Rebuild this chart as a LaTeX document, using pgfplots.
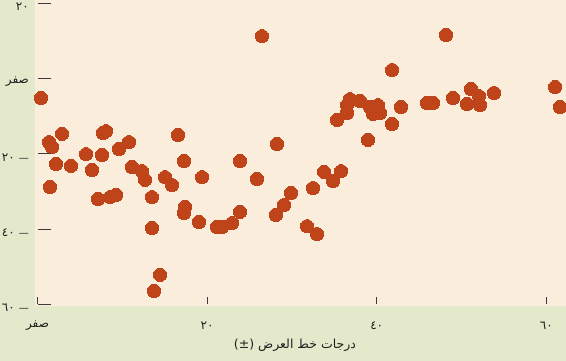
\documentclass[border=0pt]{standalone}
\usepackage{pgfplots}
\pgfplotsset{compat=1.18}
\usepackage{fontspec}
\setmainfont{DejaVu Sans}
\newfontfamily\arabicfont[Script=Arabic]{DejaVu Sans}
\newfontfamily\dashfont{DejaVu Sans}
\TeXXeTstate=1
\definecolor{bggreen}{RGB}{229,233,204}
\definecolor{plotbg}{RGB}{250,237,219}
\definecolor{dotcol}{RGB}{192,68,26}
\definecolor{tickcol}{RGB}{60,60,60}
\definecolor{txtcol}{RGB}{35,31,32}
\newcommand{\negdash}{{\dashfont\fontsize{10}{10}\selectfont —}}
\begin{document}
\begin{tikzpicture}[x=1pt,y=1pt]
\fill[bggreen] (0,0) rectangle (566,361);
\useasboundingbox (0,0) rectangle (566,361);
% data axis
\begin{axis}[
  at={(35pt,54.5pt)}, anchor=south west, scale only axis,
  width=531pt, height=306.5pt,
  xmin=-0.295, xmax=62.32, ymin=-60.5, ymax=20.8,
  axis background/.style={fill=plotbg},
  axis line style={draw=none},
  xtick=\empty, ytick=\empty,
  clip=false,
]
\addplot[dotcol, only marks, mark=*, mark size=6.6pt, mark options={draw=dotcol, fill=dotcol, line width=0pt}] table {
x y
0.41 -5.2
1.36 -16.9
1.71 -18.2
2.89 -14.7
2.18 -22.7
3.95 -23.2
1.47 -28.8
5.72 -20.1
6.43 -24.3
7.72 -14.5
8.08 -14.0
7.61 -20.3
9.61 -18.7
10.79 -16.9
11.14 -23.5
12.32 -24.6
12.68 -26.9
7.13 -32.0
8.55 -31.5
9.26 -30.9
13.50 -31.5
13.50 -39.7
14.45 -52.1
13.74 -56.4
15.04 -26.2
15.86 -28.3
16.57 -15.0
17.28 -21.9
19.40 -26.2
17.39 -34.1
17.28 -35.7
19.04 -38.1
21.17 -39.4
21.76 -39.4
22.94 -38.4
23.88 -35.4
23.88 -21.9
25.88 -26.7
28.24 -17.4
28.12 -36.2
29.07 -33.6
29.89 -30.4
31.78 -39.2
32.96 -41.3
32.49 -29.1
33.79 -24.8
34.85 -27.2
35.79 -24.6
35.32 -11.0
26.47 11.2
36.50 -9.2
36.50 -7.1
36.85 -5.5
38.03 -6.0
39.21 -7.6
40.15 -7.1
40.39 -9.2
39.56 -9.4
42.87 -7.6
41.81 -12.1
38.97 -16.3
41.81 2.2
45.93 -6.5
46.64 -6.5
48.17 11.5
49.00 -5.2
50.65 -6.8
51.12 -2.8
52.06 -4.7
52.18 -7.1
53.83 -3.9
61.03 -2.3
61.62 -7.6
};
\end{axis}
% x ticks axis
\begin{axis}[
  at={(35pt,57pt)}, anchor=south west, scale only axis,
  width=531pt, height=100pt,
  xmin=-0.295, xmax=62.32, ymin=0, ymax=1,
  hide y axis,
  axis x line*=bottom,
  x axis line style={draw=none},
  tick align=inside, major tick length=7pt,
  xtick={0,20,40,60},
  xticklabels={{\arabicfont\beginR صفر\endR},{\arabicfont ٢٠},{\arabicfont ٤٠},{\arabicfont ٦٠}},
  xtick style={draw=tickcol, line width=1pt},
  xticklabel style={anchor=center, inner sep=0pt, yshift=-22pt, font=\fontsize{12}{14}\selectfont, text=txtcol},
  xlabel={\arabicfont\beginR درجات خط العرض \beginL(±)\endL\endR},
  xlabel style={at={(axis description cs:0.4896,0)}, anchor=center, yshift=-41pt, font=\fontsize{12.5}{15}\selectfont, text=txtcol},
]
\addplot[draw=none] coordinates {(0,0)};
\end{axis}
% y ticks axis
\begin{axis}[
  at={(38pt,54.5pt)}, anchor=south west, scale only axis,
  width=100pt, height=306.5pt,
  xmin=0, xmax=1, ymin=-60.5, ymax=20.8,
  hide x axis,
  axis y line*=left,
  y axis line style={draw=none},
  tick align=inside, major tick length=13pt,
  ytick={-60,-40,-20,0,20},
  yticklabels={{\arabicfont\beginR\negdash\hspace{4pt}٦٠\endR},{\arabicfont\beginR\negdash\hspace{4pt}٤٠\endR},{\arabicfont\beginR\negdash\hspace{4pt}٢٠\endR},{\arabicfont\beginR صفر\endR},{\arabicfont ٢٠}},
  ytick style={draw=tickcol, line width=1pt},
  yticklabel style={anchor=east, inner sep=0pt, xshift=-9pt, yshift=-3.5pt, font=\fontsize{12}{14}\selectfont, text=txtcol},
]
\addplot[draw=none] coordinates {(0,0)};
\end{axis}
\end{tikzpicture}
\end{document}
